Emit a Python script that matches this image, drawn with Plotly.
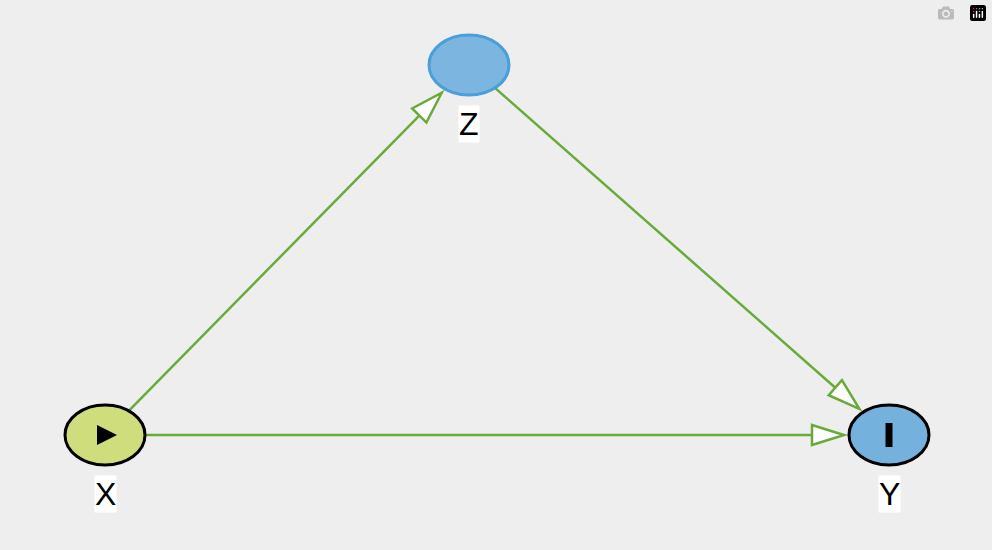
import math
import plotly.graph_objects as go

# nodes of the diagram (pixel-like coordinates, y down)
node_names = ["X", "Z", "Y"]
node_x = [105, 469, 889]
node_y = [435, 65, 435]
node_fill = ["#d0dd7c", "#7cb6e0", "#74b1dc"]
node_line = ["#000000", "#4a9fd9", "#000000"]

edges = [("X", "Z"), ("Z", "Y"), ("X", "Y")]

RX, RY = 40, 30
edge_color = "#6aaa3a"

fig = go.Figure()
shapes = []
annotations = []

pos = {n: (x, y) for n, x, y in zip(node_names, node_x, node_y)}


def boundary(cx, cy, dx, dy, pad):
  # point on ellipse boundary (plus padding) along direction
  t = 1 / math.sqrt((dx / RX) ** 2 + (dy / RY) ** 2)
  L = math.hypot(dx, dy)
  return cx + dx * t + dx / L * pad, cy + dy * t + dy / L * pad


for a, b in edges:
  (x0, y0), (x1, y1) = pos[a], pos[b]
  dx, dy = x1 - x0, y1 - y0
  sx, sy = boundary(x0, y0, dx, dy, 0)
  ex, ey = boundary(x1, y1, -dx, -dy, 5)
  L = math.hypot(dx, dy)
  ux, uy = dx / L, dy / L
  head, half = 32, 10
  bx, by = ex - ux * head, ey - uy * head
  shapes.append(dict(type="line", x0=sx, y0=sy, x1=bx, y1=by,
                     line=dict(color=edge_color, width=2.5)))
  p1 = (bx - uy * half, by + ux * half)
  p2 = (bx + uy * half, by - ux * half)
  shapes.append(dict(type="path",
                     path=f"M {ex},{ey} L {p1[0]},{p1[1]} L {p2[0]},{p2[1]} Z",
                     fillcolor="white", line=dict(color=edge_color, width=2.5)))

for n, x, y, f, lc in zip(node_names, node_x, node_y, node_fill, node_line):
  shapes.append(dict(type="circle", x0=x - RX, x1=x + RX, y0=y - RY, y1=y + RY,
                     fillcolor=f, line=dict(color=lc, width=3)))
  annotations.append(dict(x=x, y=y + 59, text=n, showarrow=False,
                          font=dict(size=32, color="black", family="Liberation Sans, Arial"),
                          bgcolor="white", borderpad=0))

# exposure and outcome icons
shapes.append(dict(type="path", path=f"M {node_x[0]-8},{node_y[0]-10} L {node_x[0]+12},{node_y[0]} L {node_x[0]-8},{node_y[0]+10} Z",
                   fillcolor="black", line=dict(width=0)))
shapes.append(dict(type="rect", x0=node_x[2] - 3.5, x1=node_x[2] + 3.5, y0=node_y[2] - 12, y1=node_y[2] + 12,
                   fillcolor="black", line=dict(width=0)))

fig.update_layout(
  width=992, height=550,
  margin=dict(l=0, r=0, t=0, b=0),
  paper_bgcolor="#eeeeee", plot_bgcolor="#eeeeee",
  shapes=shapes, annotations=annotations,
  xaxis=dict(range=[0, 992], visible=False, fixedrange=True),
  yaxis=dict(range=[550, 0], visible=False, fixedrange=True),
  showlegend=False,
)

fig.write_html("out.html")

# drop the default page margin so the figure fills the window
with open("out.html") as f:
  html = f.read()
html = html.replace("<head>", "<head><style>body{margin:0;background:#eeeeee;}</style>", 1)
with open("out.html", "w") as f:
  f.write(html)
